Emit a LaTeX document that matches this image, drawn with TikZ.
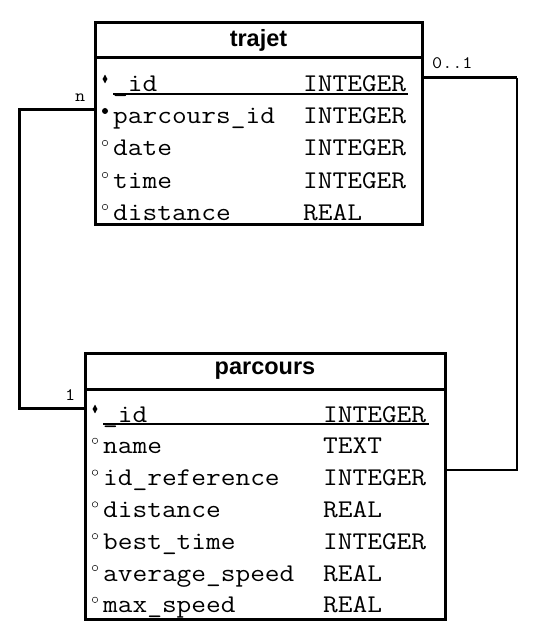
\documentclass[tikz,border=0pt]{standalone}
\usepackage{fontspec}
\newfontfamily\fieldfont{Latin Modern Mono}[FakeStretch=1.12]
\newfontfamily\headfont{Liberation Sans}
\usetikzlibrary{positioning,shapes.geometric}

\begin{document}
\begin{tikzpicture}[x=1pt,y=-1pt,
  table/.style={draw, line width=3pt, inner sep=0pt, outer sep=0pt},
  head/.style={table, font=\headfont\bfseries\fontsize{23.5}{24}\selectfont},
  field/.style={anchor=base west, inner sep=0pt, font=\fieldfont\fontsize{25.5}{30}\selectfont},
  pkmark/.style={diamond, fill, inner sep=0pt, minimum width=5pt, minimum height=9pt},
  fkmark/.style={circle, fill, inner sep=0pt, minimum size=6pt},
  colmark/.style={circle, draw, line width=0.5pt, inner sep=0pt, minimum size=5.5pt},
  uline/.style={line width=1.5pt},
  link/.style={line width=3pt},
  thinlink/.style={line width=2pt},
  mult/.style={anchor=base west, inner sep=0pt, font=\fieldfont\fontsize{17.5}{20}\selectfont}
]
\useasboundingbox[fill=white] (0,0) rectangle (538,639);

% table trajet
\node[head, anchor=north west, minimum width=327pt, minimum height=35pt] (trajet head) at (95,23) {trajet};
\node[table, anchor=north, minimum width=327pt, minimum height=166pt] (trajet) at (trajet head.south) {};
\foreach \nm/\ty/\mk [count=\i] in {\_id/INTEGER/pkmark, parcours\_id/INTEGER/fkmark,
    date/INTEGER/colmark, time/INTEGER/colmark, distance/REAL/colmark}
{
  \node[field] (trajet-\i) at (113,60+\i*32) {\nm};
  \node[field] (trajet-\i-type) at (303,60+\i*32) {\ty};
  \node[\mk] (trajet-\i-mark) at (105,47+\i*32) {};
}
\draw[uline] ([yshift=-2pt]trajet-1.base west) -- ++(295,0);

% table parcours
\node[head, anchor=north west, minimum width=360pt, minimum height=36pt] (parcours head) at (85,353) {parcours};
\node[table, anchor=north, minimum width=360pt, minimum height=230pt] (parcours) at (parcours head.south) {};
\foreach \nm/\ty/\mk [count=\i] in {\_id/INTEGER/pkmark, name/TEXT/colmark,
    id\_reference/INTEGER/colmark, distance/REAL/colmark, best\_time/INTEGER/colmark,
    average\_speed/REAL/colmark, max\_speed/REAL/colmark}
{
  \node[field] (parcours-\i) at (103,390.2+\i*31.8) {\nm};
  \node[field] (parcours-\i-type) at (323,390.2+\i*31.8) {\ty};
  \node[\mk] (parcours-\i-mark) at (95,377.2+\i*31.8) {};
}
\draw[uline] ([yshift=-2pt]parcours-1.base west) -- ++(326,0);

% relations
\coordinate (n top) at (19,110);
\coordinate (n bottom) at (19,408);
\draw[link] (trajet.west |- n top) -- (n top) -- (n bottom) -- (parcours.west |- n bottom);
\node[mult] (mult n) at (75,102) {n};
\node[mult] (mult 1) at (65,400) {1};

\coordinate (ref top) at (517,78);
\coordinate (ref bottom) at (517,470);
\draw[link] (trajet.east |- ref top) -- (ref top);
\draw[thinlink] (ref top) -- (ref bottom) -- (parcours.east |- ref bottom);
\node[mult] (mult 01) at (432,69) {0..1};
\end{tikzpicture}
\end{document}
